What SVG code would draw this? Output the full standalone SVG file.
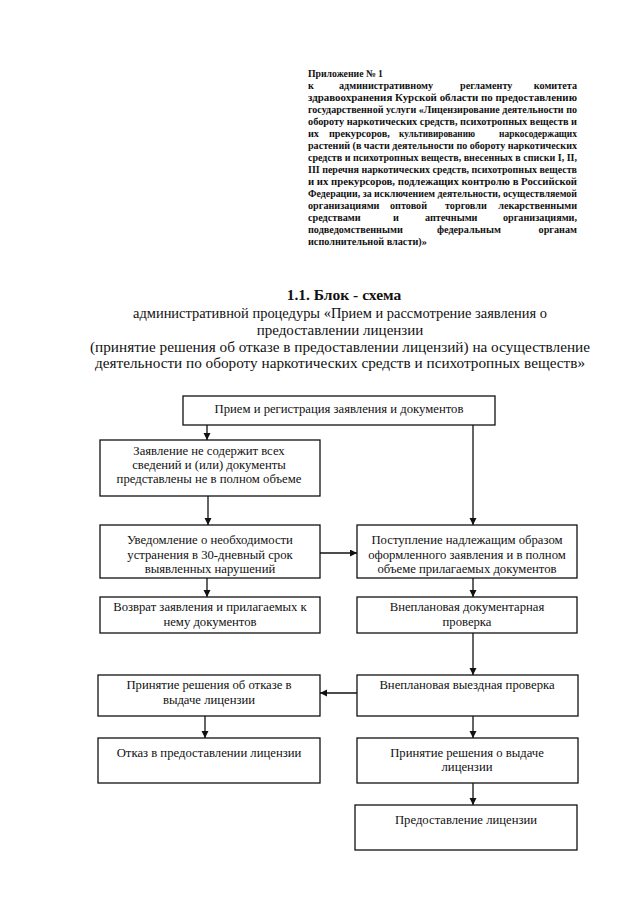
<svg xmlns="http://www.w3.org/2000/svg" width="640" height="905" viewBox="0 0 640 905">
<style>
.h{font-family:"Liberation Serif","Times New Roman",serif;font-size:10.2px;font-weight:bold;fill:#111}
.t{font-family:"Liberation Serif","Times New Roman",serif;font-size:15px;fill:#111;text-anchor:middle}
.tb{font-weight:bold;font-size:15.5px}
.b{font-family:"Liberation Serif","Times New Roman",serif;font-size:12.7px;fill:#111;text-anchor:middle}
.box{fill:#fff;stroke:#111;stroke-width:1.3}
.c{stroke:#111;stroke-width:1.3;fill:none;marker-end:url(#ah)}
</style>
<defs>
<marker id="ah" markerUnits="userSpaceOnUse" markerWidth="8" markerHeight="8" refX="7" refY="3.5" orient="auto">
<path d="M0,0 L7,3.5 L0,7 Z" fill="#111"/>
</marker>
</defs>
<rect width="640" height="905" fill="#fff"/>
<g id="header">
<text class="h" x="308" y="77" textLength="75" lengthAdjust="spacingAndGlyphs">Приложение № 1</text>
<text class="h" y="89"><tspan x="308">к</tspan><tspan x="339">административному</tspan><tspan x="460">регламенту</tspan><tspan x="577" text-anchor="end">комитета</tspan></text>
<text class="h" x="308" y="101" textLength="269" lengthAdjust="spacingAndGlyphs">здравоохранения Курской области по предоставлению</text>
<text class="h" x="308" y="113" textLength="269" lengthAdjust="spacingAndGlyphs">государственной услуги «Лицензирование деятельности по</text>
<text class="h" x="308" y="125" textLength="269" lengthAdjust="spacingAndGlyphs">обороту наркотических средств, психотропных веществ и</text>
<text class="h" y="137"><tspan x="308">их</tspan><tspan x="329">прекурсоров,</tspan><tspan x="399" textLength="76" lengthAdjust="spacingAndGlyphs">культивированию</tspan><tspan x="499" textLength="78" lengthAdjust="spacingAndGlyphs">наркосодержащих</tspan></text>
<text class="h" x="308" y="149" textLength="269" lengthAdjust="spacingAndGlyphs">растений (в части деятельности по обороту наркотических</text>
<text class="h" x="308" y="161" textLength="269" lengthAdjust="spacingAndGlyphs">средств и психотропных веществ, внесенных в списки I, II,</text>
<text class="h" x="308" y="173" textLength="269" lengthAdjust="spacingAndGlyphs">III перечня наркотических средств, психотропных веществ</text>
<text class="h" x="308" y="185" textLength="269" lengthAdjust="spacingAndGlyphs">и их прекурсоров, подлежащих контролю в Российской</text>
<text class="h" x="308" y="197" textLength="269" lengthAdjust="spacingAndGlyphs">Федерации, за исключением деятельности, осуществляемой</text>
<text class="h" y="209"><tspan x="308">организациями</tspan><tspan x="390">оптовой</tspan><tspan x="445">торговли</tspan><tspan x="577" text-anchor="end">лекарственными</tspan></text>
<text class="h" y="221"><tspan x="308">средствами</tspan><tspan x="393">и</tspan><tspan x="425">аптечными</tspan><tspan x="577" text-anchor="end">организациями,</tspan></text>
<text class="h" y="233"><tspan x="308">подведомственными</tspan><tspan x="437">федеральным</tspan><tspan x="577" text-anchor="end">органам</tspan></text>
<text class="h" x="308" y="245">исполнительной власти)»</text>
</g>
<g id="title">
<text class="t tb" x="344" y="300">1.1. Блок - схема</text>
<text class="t" x="340" y="318" textLength="414" lengthAdjust="spacingAndGlyphs">административной процедуры «Прием и рассмотрение заявления о</text>
<text class="t" x="340" y="335">предоставлении лицензии</text>
<text class="t" x="340" y="352" textLength="500" lengthAdjust="spacingAndGlyphs">(принятие решения об отказе в предоставлении лицензий) на осуществление</text>
<text class="t" x="340" y="368" textLength="490" lengthAdjust="spacingAndGlyphs">деятельности по обороту наркотических средств и психотропных веществ»</text>
</g>
<g id="connectors">
<path class="c" d="M207,425 V440"/>
<path class="c" d="M473,425 V525"/>
<path class="c" d="M208,496 V525"/>
<path class="c" d="M320,553 H357"/>
<path class="c" d="M207,578 V597"/>
<path class="c" d="M473,578 V597"/>
<path class="c" d="M473,633 V675"/>
<path class="c" d="M357,693 H320"/>
<path class="c" d="M205,716 V738"/>
<path class="c" d="M473,716 V738"/>
<path class="c" d="M473,783 V805"/>
</g>
<g id="n1"><rect class="box" x="183" y="396" width="312" height="29"/><text class="b" x="339" y="413">Прием и регистрация заявления и документов</text></g>
<g id="n2"><rect class="box" x="100" y="440" width="220" height="56"/><text class="b" x="209" y="455">Заявление не содержит всех</text><text class="b" x="209" y="469">сведений и (или) документы</text><text class="b" x="209" y="483">представлены не в полном объеме</text></g>
<g id="n3"><rect class="box" x="100" y="525" width="220" height="53"/><text class="b" x="210" y="544">Уведомление о необходимости</text><text class="b" x="210" y="559">устранения в 30-дневный срок</text><text class="b" x="210" y="573">выявленных нарушений</text></g>
<g id="n4"><rect class="box" x="357" y="525" width="220" height="53"/><text class="b" x="467" y="544">Поступление надлежащим образом</text><text class="b" x="467" y="559">оформленного заявления и в полном</text><text class="b" x="467" y="573">объеме прилагаемых документов</text></g>
<g id="n5"><rect class="box" x="100" y="597" width="220" height="36"/><text class="b" x="210" y="611">Возврат заявления и прилагаемых к</text><text class="b" x="210" y="626">нему документов</text></g>
<g id="n6"><rect class="box" x="357" y="597" width="220" height="36"/><text class="b" x="467" y="611">Внеплановая документарная</text><text class="b" x="467" y="626">проверка</text></g>
<g id="n7"><rect class="box" x="98" y="675" width="222" height="41"/><text class="b" x="209" y="689">Принятие решения об отказе в</text><text class="b" x="209" y="704">выдаче лицензии</text></g>
<g id="n8"><rect class="box" x="357" y="675" width="221" height="41"/><text class="b" x="467" y="689">Внеплановая выездная проверка</text></g>
<g id="n9"><rect class="box" x="98" y="738" width="222" height="45"/><text class="b" x="209" y="757">Отказ в предоставлении лицензии</text></g>
<g id="n10"><rect class="box" x="357" y="738" width="221" height="45"/><text class="b" x="467" y="757">Принятие решения о выдаче</text><text class="b" x="467" y="771">лицензии</text></g>
<g id="n11"><rect class="box" x="355" y="805" width="222" height="45"/><text class="b" x="466" y="824">Предоставление лицензии</text></g>
</svg>
